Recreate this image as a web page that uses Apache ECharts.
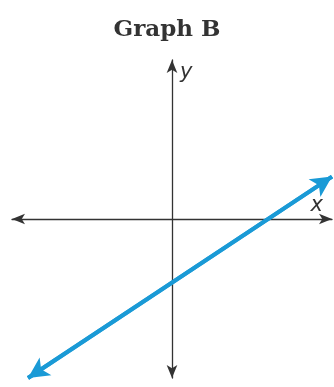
<!DOCTYPE html>
<html>
<head>
<meta charset="utf-8">
<script src="https://cdn.jsdelivr.net/npm/echarts@6/dist/echarts.min.js"></script>
<style>
  html, body { margin: 0; padding: 0; background: #fff; }
  #chart { width: 334px; height: 387px; }
</style>
</head>
<body>
<div id="chart"></div>
<script>
// ---------------------------------------------------
// Data
// ---------------------------------------------------
const xRange = [-5, 5];
const yRange = [-5, 5];
// line y = 2/3 x - 2, drawn between its two arrow tips
const lineStart = [-4.5, -5];
const lineEnd = [5, 1.333];
const titleText = "Graph B";

const axisColor = "#333";
const lineColor = "#1a9ad6";

const chart = echarts.init(document.getElementById("chart"));

chart.setOption({
  backgroundColor: "#fff",
  animation: false,
  title: {
    text: titleText,
    left: "center",
    top: 14,
    textStyle: {
      fontFamily: "DejaVu Serif",
      fontWeight: "bold",
      fontSize: 23,
      color: "#333"
    }
  },
  grid: { left: 12, right: 2, top: 60, bottom: 9 },
  xAxis: {
    type: "value",
    min: xRange[0],
    max: xRange[1],
    name: "x",
    nameLocation: "end",
    nameGap: -9,
    nameTextStyle: {
      fontFamily: "DejaVu Sans",
      fontStyle: "italic",
      fontSize: 21,
      color: "#333",
      align: "right",
      verticalAlign: "bottom",
      padding: [0, 0, 3, 0]
    },
    axisLine: {
      onZero: true,
      symbol: ["arrow", "arrow"],
      symbolSize: [8, 13],
      lineStyle: { color: axisColor, width: 1.3 }
    },
    axisTick: { show: false },
    axisLabel: { show: false },
    splitLine: { show: false }
  },
  yAxis: {
    type: "value",
    min: yRange[0],
    max: yRange[1],
    name: "y",
    nameLocation: "end",
    nameGap: -2,
    nameTextStyle: {
      fontFamily: "DejaVu Sans",
      fontStyle: "italic",
      fontSize: 21,
      color: "#333",
      align: "left",
      verticalAlign: "top",
      padding: [0, 0, 0, 8]
    },
    axisLine: {
      onZero: true,
      symbol: ["arrow", "arrow"],
      symbolSize: [8, 13],
      lineStyle: { color: axisColor, width: 1.3 }
    },
    axisTick: { show: false },
    axisLabel: { show: false },
    splitLine: { show: false }
  },
  series: [
    {
      type: "line",
      data: [lineStart, lineEnd],
      showSymbol: false,
      lineStyle: { color: lineColor, width: 4 },
      markLine: {
        silent: true,
        symbol: ["arrow", "arrow"],
        symbolSize: [16, 21],
        label: { show: false },
        lineStyle: { color: lineColor, width: 4, type: "solid" },
        data: [[{ coord: lineStart }, { coord: lineEnd }]]
      }
    }
  ]
});
</script>
</body>
</html>
